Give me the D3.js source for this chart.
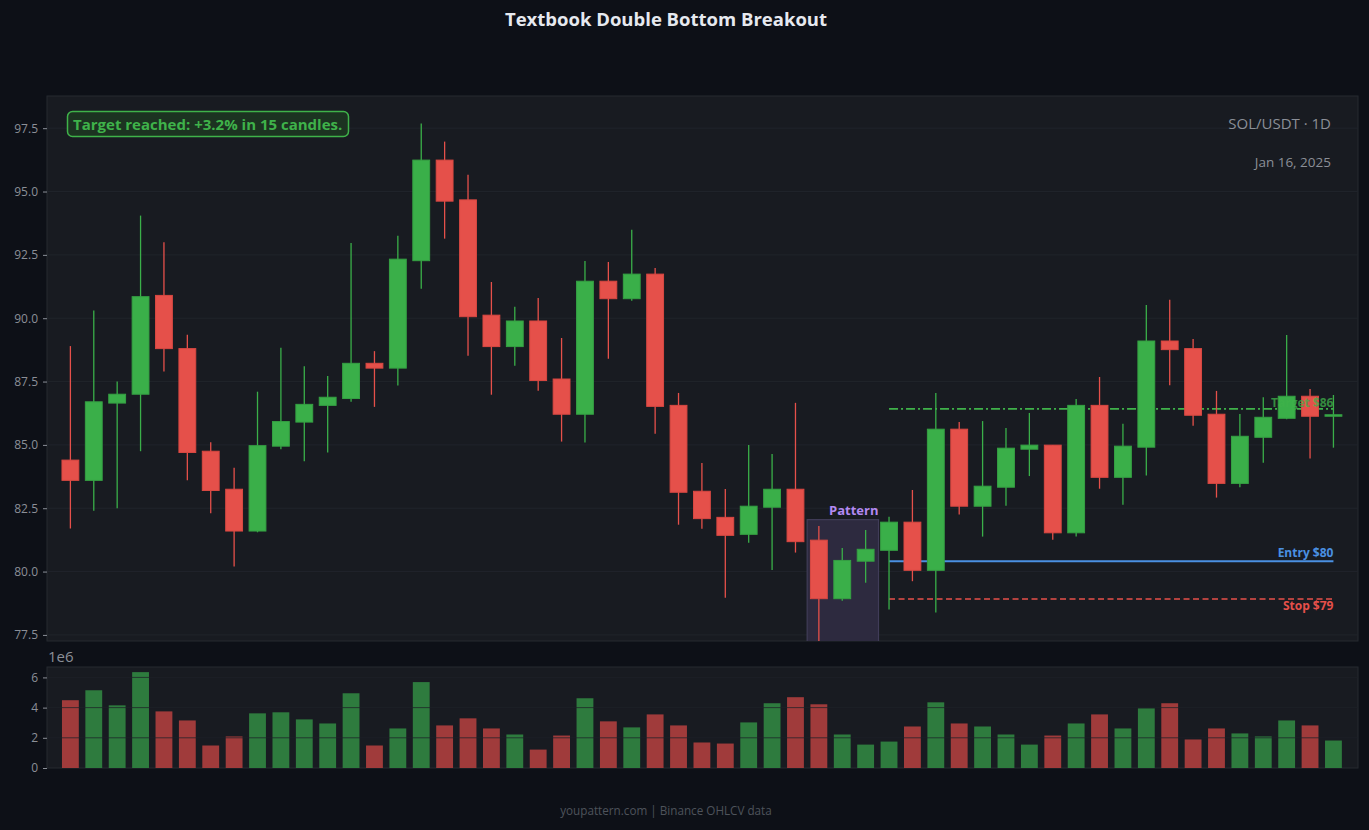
<!DOCTYPE html>
<html>
<head>
<meta charset="utf-8">
<script src="https://cdn.jsdelivr.net/npm/d3@7"></script>
<style>
	html, body { margin: 0; padding: 0; background: #0d1017; }
	svg { display: block; font-family: "Open Sans", "Noto Sans", sans-serif; }
</style>
</head>
<body>
<div id="chart"></div>
<script>
// OHLC, daily candles
const opens = [84.4, 83.6, 86.65, 87.0, 90.9, 88.8, 84.75, 83.25, 81.6, 84.95, 85.9, 86.56, 86.83, 88.22, 88.03, 92.27, 96.24, 94.67, 90.12, 88.88, 89.89, 87.6, 86.21, 91.46, 90.77, 91.74, 86.56, 83.17, 82.14, 81.47, 82.54, 83.25, 81.24, 78.93, 80.41, 80.84, 81.95, 80.05, 85.62, 82.58, 83.33, 84.83, 84.99, 81.53, 86.56, 83.72, 84.91, 89.1, 88.8, 86.21, 83.48, 85.3, 86.05, 86.92, 86.15];
const highs = [88.9, 90.3, 87.5, 94.05, 93.0, 89.35, 85.1, 84.1, 87.1, 88.83, 88.1, 87.72, 92.97, 88.7, 93.25, 97.68, 96.97, 95.66, 91.43, 90.45, 90.8, 89.22, 92.26, 92.22, 93.49, 91.98, 87.05, 84.29, 83.26, 85.0, 84.64, 86.66, 81.8, 80.93, 81.64, 82.16, 83.22, 87.05, 85.9, 85.94, 85.67, 86.26, 85.0, 86.81, 87.68, 85.83, 90.52, 90.73, 89.18, 87.13, 86.22, 86.88, 89.34, 87.21, 86.97];
const lows = [81.7, 82.4, 82.5, 84.75, 87.9, 83.6, 82.3, 80.2, 81.55, 84.83, 84.35, 84.7, 86.7, 86.5, 87.34, 91.16, 93.14, 88.52, 86.98, 88.12, 87.14, 85.13, 85.09, 88.4, 90.69, 85.44, 81.85, 81.69, 78.97, 81.14, 80.06, 80.75, 77.1, 78.85, 79.56, 78.5, 79.62, 78.38, 82.25, 81.38, 82.6, 83.77, 81.26, 81.38, 83.27, 82.64, 83.79, 87.35, 85.76, 82.92, 83.33, 84.3, 86.01, 84.46, 84.89];
const closes = [83.6, 86.7, 87.0, 90.85, 88.8, 84.7, 83.2, 81.6, 84.97, 85.92, 86.6, 86.88, 88.22, 88.03, 92.33, 96.24, 94.62, 90.06, 88.88, 89.89, 87.54, 86.21, 91.46, 90.77, 91.74, 86.52, 83.13, 82.09, 81.43, 82.58, 83.25, 81.18, 78.93, 80.44, 80.88, 81.95, 80.05, 85.62, 82.58, 83.37, 84.87, 84.99, 81.53, 86.56, 83.72, 84.95, 89.1, 88.76, 86.17, 83.48, 85.34, 86.09, 86.92, 86.13, 86.19];
// volume, in units of 1e6
const volumes = [4.49, 5.15, 4.15, 6.35, 3.75, 3.15, 1.49, 2.09, 3.62, 3.69, 3.22, 2.95, 4.95, 1.49, 2.62, 5.69, 2.82, 3.29, 2.62, 2.22, 1.22, 2.15, 4.62, 3.09, 2.69, 3.55, 2.82, 1.69, 1.62, 3.02, 4.29, 4.69, 4.22, 2.22, 1.55, 1.75, 2.75, 4.35, 2.95, 2.75, 2.22, 1.55, 2.15, 2.95, 3.55, 2.62, 3.95, 4.29, 1.89, 2.62, 2.29, 2.09, 3.15, 2.82, 1.82];

const priceTicks = [77.5, 80.0, 82.5, 85.0, 87.5, 90.0, 92.5, 95.0, 97.5];
const volumeTicks = [0, 2, 4, 6];

// trade levels
const levels = [
	{ name: 'Target $86', price: 86.42, color: '#3fb24a', dash: '9,3,2,3', width: 1.6, dy: -2, opacity: 0.75 },
	{ name: 'Entry $80', price: 80.41, color: '#4a90e2', dash: null, width: 2, dy: -4, opacity: 1 },
	{ name: 'Stop $79', price: 78.92, color: '#e5504a', dash: '6,3.5', width: 1.5, dy: 11, opacity: 1 },
];
const levelStart = 35;
const patternRange = [31.5, 34.55];
const patternTop = 82.05;

const W = 1369, H = 830;
const price = { left: 47, right: 1358, top: 96, bottom: 641 };
const vol = { left: 47, right: 1358, top: 667, bottom: 768 };

const GREEN = '#3aaf49', RED = '#e5504a';
const VGREEN = '#2e7b3e', VRED = '#a03b3b';

const svg = d3.select('#chart')
	.append('svg')
	.attr('width', W)
	.attr('height', H);

svg.append('rect').attr('width', W).attr('height', H).attr('fill', '#0d1017');

const x = d3.scaleLinear().domain([-1, 55.05]).range([price.left, price.right]);
const y = d3.scaleLinear().domain([77.26, 98.77]).range([price.bottom, price.top]);
const yv = d3.scaleLinear().domain([0, 6.69]).range([vol.bottom, vol.top]);
const step = x(1) - x(0);
const bodyW = step * 0.72;

const candles = opens.map((o, i) => ({ i, o, h: highs[i], l: lows[i], c: closes[i], v: volumes[i], up: closes[i] >= o }));

// 面板背景
const drawPanel = (p) => {
	svg.append('rect')
		.attr('x', p.left).attr('y', p.top)
		.attr('width', p.right - p.left).attr('height', p.bottom - p.top)
		.attr('fill', '#181b21')
		.attr('stroke', '#262a31')
		.attr('stroke-width', 1);
};
drawPanel(price);
drawPanel(vol);

svg.append('defs').append('clipPath').attr('id', 'clipPrice')
	.append('rect')
	.attr('x', price.left).attr('y', price.top)
	.attr('width', price.right - price.left).attr('height', price.bottom - price.top);

// 价格网格 + 刻度
svg.append('g')
	.selectAll('line')
	.data(priceTicks)
	.enter()
	.append('line')
	.attr('x1', price.left).attr('x2', price.right)
	.attr('y1', d => y(d)).attr('y2', d => y(d))
	.attr('stroke', '#20242b');

const styleAxis = (g) => {
	g.select('.domain').remove();
	g.selectAll('line').attr('stroke', '#8b8f97');
	g.selectAll('text').attr('fill', '#8b8f97').style('font-size', '12px').style('font-family', '"Open Sans", sans-serif');
};

svg.append('g')
	.attr('transform', 'translate(' + price.left + ',0)')
	.call(d3.axisLeft(y).tickValues(priceTicks).tickFormat(d3.format('.1f')).tickSize(4).tickPadding(5))
	.call(styleAxis);

const plot = svg.append('g').attr('clip-path', 'url(#clipPrice)');

// Pattern 框
plot.append('rect')
	.attr('x', x(patternRange[0]))
	.attr('y', y(patternTop))
	.attr('width', x(patternRange[1]) - x(patternRange[0]))
	.attr('height', price.bottom - y(patternTop) + 2)
	.attr('fill', '#2d2a3f')
	.attr('stroke', '#403c58')
	.attr('stroke-width', 1.2);

svg.append('text')
	.attr('x', x(patternRange[1]))
	.attr('y', y(patternTop) - 5)
	.attr('text-anchor', 'end')
	.attr('fill', '#b389f2')
	.style('font-size', '13px')
	.style('font-weight', 'bold')
	.text('Pattern');

// 交易线
plot.selectAll('line.level')
	.data(levels)
	.enter()
	.append('line')
	.attr('class', 'level')
	.attr('x1', x(levelStart)).attr('x2', x(54))
	.attr('y1', d => y(d.price)).attr('y2', d => y(d.price))
	.attr('stroke', d => d.color)
	.attr('stroke-width', d => d.width)
	.attr('stroke-dasharray', d => d.dash);

// 影线
plot.selectAll('line.wick')
	.data(candles)
	.enter()
	.append('line')
	.attr('class', 'wick')
	.attr('x1', d => x(d.i)).attr('x2', d => x(d.i))
	.attr('y1', d => y(d.h)).attr('y2', d => y(d.l))
	.attr('stroke', d => d.up ? GREEN : RED)
	.attr('stroke-width', 1.3);

// 实体
plot.selectAll('rect.body')
	.data(candles)
	.enter()
	.append('rect')
	.attr('class', 'body')
	.attr('x', d => x(d.i) - bodyW / 2)
	.attr('y', d => y(Math.max(d.o, d.c)))
	.attr('width', bodyW)
	.attr('height', d => Math.max(1.5, Math.abs(y(d.o) - y(d.c))))
	.attr('fill', d => d.up ? GREEN : RED)
	.attr('stroke', d => d.up ? '#35a043' : '#d84842')
	.attr('stroke-width', 1);

// 线标签（在蜡烛之上）
plot.selectAll('text.level')
	.data(levels)
	.enter()
	.append('text')
	.attr('class', 'level')
	.attr('x', x(54))
	.attr('y', d => y(d.price) + d.dy)
	.attr('text-anchor', 'end')
	.attr('fill', d => d.color)
	.attr('opacity', d => d.opacity)
	.style('font-size', '12px')
	.style('font-weight', 'bold')
	.text(d => d.name);

// 成交量
svg.append('g')
	.selectAll('rect')
	.data(candles)
	.enter()
	.append('rect')
	.attr('x', d => x(d.i) - bodyW / 2)
	.attr('y', d => yv(d.v))
	.attr('width', bodyW)
	.attr('height', d => yv(0) - yv(d.v))
	.attr('fill', d => d.up ? VGREEN : VRED);

svg.append('g')
	.selectAll('line')
	.data(volumeTicks.slice(1))
	.enter()
	.append('line')
	.attr('x1', vol.left).attr('x2', vol.right)
	.attr('y1', d => yv(d)).attr('y2', d => yv(d))
	.attr('stroke', 'rgba(30,34,40,0.75)');

svg.append('g')
	.attr('transform', 'translate(' + vol.left + ',0)')
	.call(d3.axisLeft(yv).tickValues(volumeTicks).tickFormat(d3.format('d')).tickSize(4).tickPadding(5))
	.call(styleAxis);

svg.append('text')
	.attr('x', 48).attr('y', 662)
	.attr('fill', '#8b8f97')
	.style('font-size', '15px')
	.text('1e6');

// 标题与注释
svg.append('text')
	.attr('x', 666).attr('y', 26)
	.attr('text-anchor', 'middle')
	.attr('fill', '#e6e9ef')
	.style('font-size', '18.5px')
	.style('font-weight', 'bold')
	.text('Textbook Double Bottom Breakout');

svg.append('text')
	.attr('x', 1331).attr('y', 129)
	.attr('text-anchor', 'end')
	.attr('fill', '#8b8f97')
	.style('font-size', '15px')
	.text('SOL/USDT · 1D');

svg.append('text')
	.attr('x', 1331).attr('y', 167)
	.attr('text-anchor', 'end')
	.attr('fill', '#8b8f97')
	.style('font-size', '13.5px')
	.text('Jan 16, 2025');

const note = svg.append('g');
note.append('rect')
	.attr('x', 67.5).attr('y', 111.5)
	.attr('width', 281).attr('height', 25)
	.attr('rx', 5)
	.attr('fill', '#1c3321')
	.attr('stroke', '#3fb24a')
	.attr('stroke-width', 1.5);
note.append('text')
	.attr('x', 73).attr('y', 129.5)
	.attr('fill', '#3fb24a')
	.style('font-size', '15px')
	.style('font-weight', 'bold')
	.text('Target reached: +3.2% in 15 candles.');

svg.append('text')
	.attr('x', 666).attr('y', 815)
	.attr('text-anchor', 'middle')
	.attr('fill', '#4e535b')
	.style('font-size', '11.7px')
	.text('youpattern.com | Binance OHLCV data');
</script>
</body>
</html>
